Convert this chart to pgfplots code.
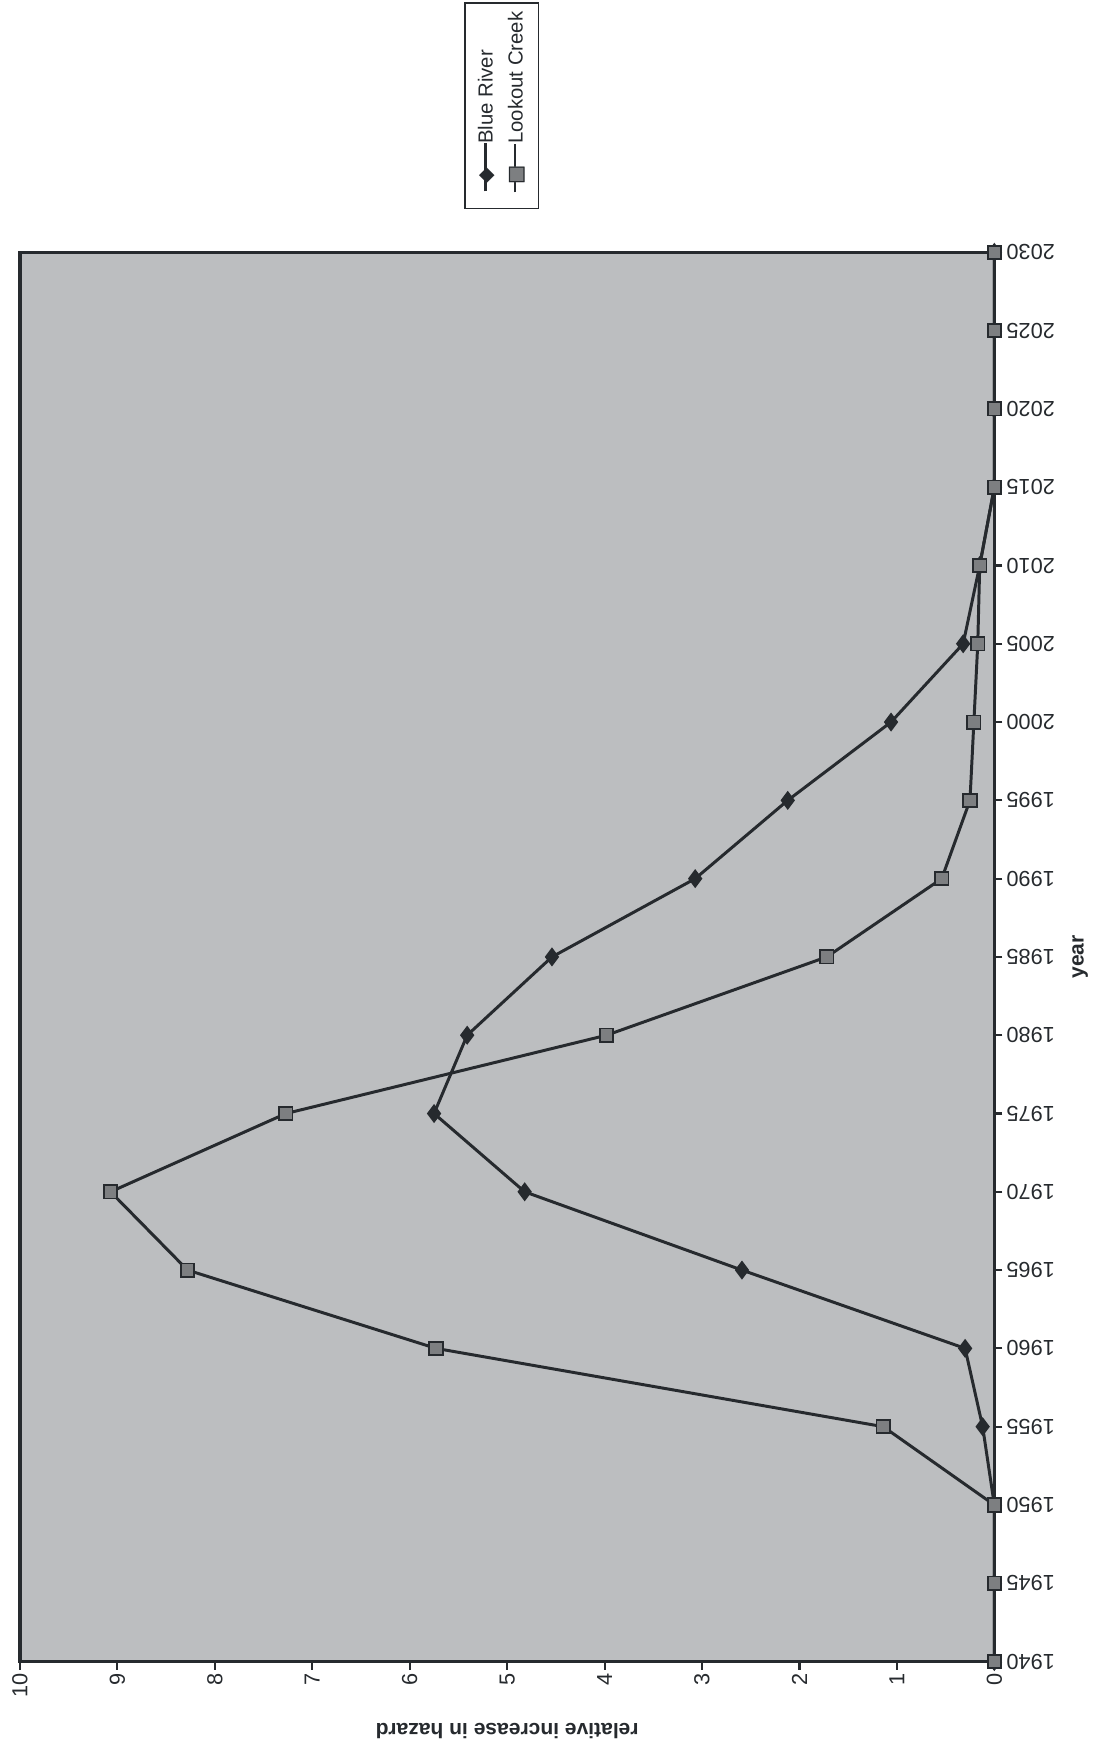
\documentclass[border=0pt]{standalone}
\usepackage{pgfplots}
\pgfplotsset{compat=1.18}
\usepackage{fontspec}
\setmainfont{Liberation Sans}
\newfontfamily\symfont{DejaVu Sans}
\definecolor{plotbg}{RGB}{188,190,192}
\definecolor{ink}{RGB}{38,42,46}
\definecolor{sqfill}{RGB}{125,127,129}
\newcommand{\legsample}[1]{\makebox[2.4em]{\rlap{\rule[0.3em]{2.4em}{0.8pt}}\hfil#1\hfil}}
\begin{document}
\begin{tikzpicture}
\begin{axis}[
  scale only axis, width=97.7mm, height=141.3mm,
  at={(0,0)}, anchor=south west,
  xmin=0, xmax=10, x dir=reverse,
  ymin=1940, ymax=2030,
  xtick={0,1,...,10}, ytick={1940,1945,...,2030},
  xtick pos=bottom, ytick pos=right, yticklabel pos=right,
  tick align=outside, major tick length=0.8mm,
  tick style={ink, line width=0.6pt},
  axis line style={ink, line width=0.9pt},
  axis background/.style={fill=plotbg},
  /pgf/number format/1000 sep={},
  /pgf/number format/assume math mode=true,
  tick label style={font=\fontsize{6.2}{7}\selectfont, text=ink},
  xticklabel style={rotate=90, anchor=east, inner sep=1pt},
  yticklabel style={rotate=180, anchor=east, inner sep=1pt},
  every axis x label/.style={at={(axis description cs:0.5,-0.049)}, rotate=180, anchor=center, font=\fontsize{6}{7}\selectfont\bfseries, text=ink},
  every axis y label/.style={at={(axis description cs:1.088,0.5)}, rotate=90, anchor=center, font=\fontsize{6}{7}\selectfont\bfseries, text=ink},
  xlabel={relative increase in hazard}, ylabel={year},
  clip=false,
]
\addplot[ink, line width=0.85pt, mark=diamond*, mark size=2.4pt, mark options={fill=ink, draw=ink, line width=0.4pt}] coordinates {
(0,1940) (0,1945) (0,1950) (0.12,1955) (0.30,1960) (2.59,1965) (4.82,1970) (5.75,1975) (5.41,1980) (4.54,1985) (3.07,1990) (2.12,1995) (1.06,2000) (0.32,2005) (0.15,2010) (0,2015) (0,2020) (0,2025) (0,2030)};
\addplot[ink, line width=0.85pt, mark=square*, mark size=1.9pt, mark options={fill=sqfill, draw=ink, line width=0.5pt}] coordinates {
(0,1940) (0,1945) (0,1950) (1.14,1955) (5.73,1960) (8.28,1965) (9.07,1970) (7.27,1975) (3.98,1980) (1.72,1985) (0.54,1990) (0.25,1995) (0.21,2000) (0.17,2005) (0.15,2010) (0,2015) (0,2020) (0,2025) (0,2030)};
\end{axis}
\node[rotate=90, draw=ink, line width=0.5pt, fill=white, inner xsep=2.5pt, inner ysep=2pt,
      font=\fontsize{5.8}{8.5}\selectfont, text=ink] at (48.3mm,156mm)
  {\begin{tabular}{@{}l@{\hspace{2pt}}l@{}}
   \legsample{{\symfont\textcolor{ink}{◆}}} & Blue River\\
   \legsample{{\symfont\rlap{\textcolor{sqfill}{■}}\textcolor{ink}{□}}} & Lookout Creek
   \end{tabular}};
\path (-2mm,-8.4mm) rectangle (108mm,166.6mm);
\end{tikzpicture}
\end{document}
